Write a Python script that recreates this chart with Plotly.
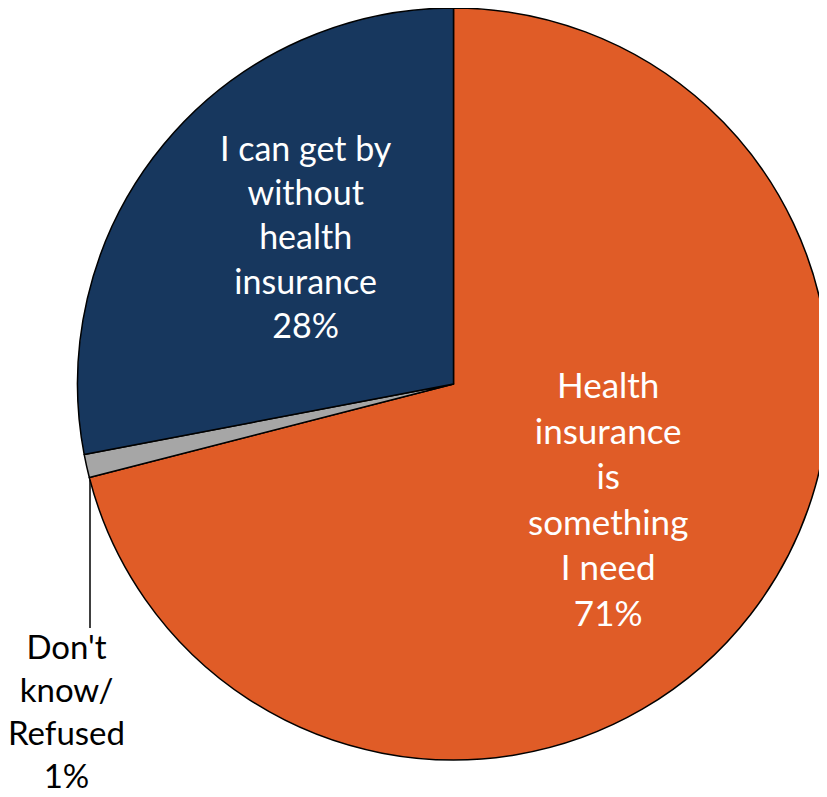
import plotly.graph_objects as go

labels = ["Health insurance is something I need", "Don't know/ Refused", "I can get by without health insurance"]
values = [71, 1, 28]
colors = ["#E05C27", "#A6A6A6", "#17375E"]
label_text = ["Health<br>insurance<br>is<br>something<br>I need<br>71%",
              "Don't<br>know/<br>Refused<br>1%",
              "I can get by<br>without<br>health<br>insurance<br>28%"]

W, H = 827, 797
FONT = "Lato, Open Sans, sans-serif"

fig = go.Figure(go.Pie(
    labels=labels, values=values, sort=False, direction="clockwise", rotation=0,
    marker=dict(colors=colors, line=dict(color="black", width=1.5)),
    textinfo="none", hoverinfo="label+percent", showlegend=False,
    domain=dict(x=[64 / W, 1.0], y=[45 / H, 1.0]),
))

def px(x, y):
    return x / W, 1 - y / H

ann = []
for (cx, cy), txt, col, sz in [((600, 490), label_text[0], "white", 35),
                               ((298, 228), label_text[2], "white", 34),
                               ((58, 702), label_text[1], "black", 33)]:
    xx, yy = px(cx, cy)
    ann.append(dict(x=xx, y=yy, xref="paper", yref="paper", text=txt, showarrow=False,
                    font=dict(family=FONT, size=sz, color=col), align="center",
                    xanchor="center", yanchor="middle"))

x0, y0 = px(82, 472)
x1, y1 = px(82, 620)
fig.update_layout(
    width=W, height=H, margin=dict(l=0, r=0, t=0, b=0),
    paper_bgcolor="white", plot_bgcolor="white",
    annotations=ann,
    shapes=[dict(type="line", xref="paper", yref="paper", x0=x0, y0=y0, x1=x1, y1=y1,
                 line=dict(color="black", width=1.5))],
)
fig.write_html("out.html")
